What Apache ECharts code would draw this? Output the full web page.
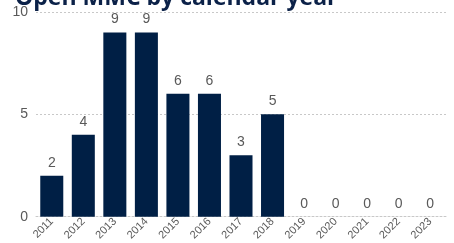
<!DOCTYPE html>
<html><head><meta charset="utf-8">
<script src="https://cdn.jsdelivr.net/npm/echarts@6/dist/echarts.min.js"></script>
<style>html,body{margin:0;padding:0;background:#fff}#c{width:454px;height:243px}</style>
</head><body><div id="c"></div>
<script>
var categories = ['2011','2012','2013','2014','2015','2016','2017','2018','2019','2020','2021','2022','2023'];
var values = [2,4,9,9,6,6,3,5,0,0,0,0,0];
var titleText = 'Open MMC by calendar year';
var chart = echarts.init(document.getElementById('c'));
chart.setOption({
  animation:false,
  title:{text:titleText,left:10,top:-18,textStyle:{fontFamily:'Open Sans',fontSize:23,fontWeight:'bold',color:'#0b2148'}},
  grid:{left:36,right:8,top:12,bottom:26},
  xAxis:{type:'category',data:categories,axisTick:{show:false},axisLine:{show:true,lineStyle:{color:'#c8c8c8',type:[2,2]}},
    axisLabel:{rotate:45,fontSize:11,color:'#595959',fontFamily:'Liberation Sans',margin:3,interval:0}},
  yAxis:{type:'value',min:0,max:10,interval:5,axisLabel:{fontSize:14,color:'#595959',fontFamily:'Liberation Sans',margin:8},
    splitLine:{lineStyle:{color:'#c8c8c8',type:[2,2]}}},
  series:[{type:'bar',data:values,barCategoryGap:'27%',itemStyle:{color:'#001f45'},
    label:{show:true,position:'top',fontSize:14,color:'#595959',fontFamily:'Liberation Sans',distance:6}}]
});
</script></body></html>
